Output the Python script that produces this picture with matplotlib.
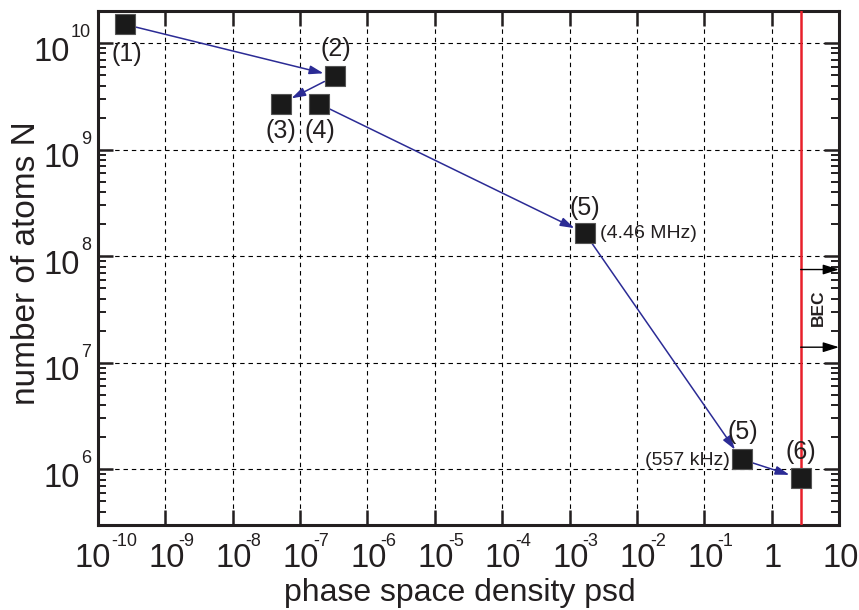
import numpy as np
import matplotlib.pyplot as plt
from matplotlib.ticker import LogLocator, FixedLocator, NullLocator, NullFormatter
from matplotlib.transforms import offset_copy

plt.rcParams['font.family'] = 'Liberation Sans'

# evaporation stages: phase space density vs atom number
psd = [2.5e-10, 3.3e-7, 5.2e-8, 1.9e-7, 1.7e-3, 0.36, 2.7]
atoms = [1.5e10, 4.9e9, 2.7e9, 2.7e9, 1.64e8, 1.24e6, 8.2e5]
stage_labels = ['(1)', '(2)', '(3)', '(4)', '(5)', '(5)', '(6)']
# which stage leads to which
arrow_pairs = [(0, 1), (1, 2), (3, 4), (4, 5), (5, 6)]
freq_stage = [4, 5]
freq_labels = ['(4.46 MHz)', '(557 kHz)']

psd_bec = 2.7
bec_arrow_atoms = [7.5e7, 1.4e7]
bec_text_pos = (4.9, 3.3e7)

x_exps = list(range(-10, 2))
x_ticklabels = [None] * 10 + ['1', '10']   # None -> drawn as 10^k
y_exps = list(range(6, 11))

# pixel offsets of the stage labels from their squares
label_offsets = [(2, -30), (1, 27), (0, -27), (1, -27), (0, 25), (1, 27), (0, 26)]
freq_offsets = [(15, 0), (-12, -1)]
freq_ha = ['left', 'right']

navy = '#2b2b95'
ink = '#231f20'

fig = plt.figure(figsize=(8.59, 6.10), dpi=100)
ax = fig.add_axes([0.114, 0.1393, 0.8627, 0.8426])
ax.set_xscale('log')
ax.set_yscale('log')
ax.set_xlim(1e-10, 10)
ax.set_ylim(3e5, 2e10)

ax.grid(True, which='major', color='k', lw=0.8, linestyle=(0, (4, 3.5)))

# arrows between stages
for a, b in arrow_pairs:
    ax.annotate('', xy=(psd[b], atoms[b]), xytext=(psd[a], atoms[a]),
                arrowprops=dict(arrowstyle='-|>,head_length=0.7,head_width=0.22',
                                color=navy, lw=1.1, shrinkA=8.5, shrinkB=8.5,
                                mutation_scale=12), zorder=3)

ax.plot(psd, atoms, ls='none', marker='s', ms=14.5, mfc='#1a1a1a',
        mec='#555555', mew=0.8, zorder=4)

for i, lab in enumerate(stage_labels):
    ax.annotate(lab, (psd[i], atoms[i]), xytext=label_offsets[i],
                textcoords='offset pixels', ha='center', va='center',
                fontsize=18, color=ink, zorder=5)

for i, lab, off, ha in zip(freq_stage, freq_labels, freq_offsets, freq_ha):
    ax.annotate(lab, (psd[i], atoms[i]), xytext=off,
                textcoords='offset pixels', ha=ha, va='center',
                fontsize=14, color=ink, zorder=5)

# BEC threshold
ax.axvline(psd_bec, color='#e8202a', lw=1.8, zorder=3)
for yv in bec_arrow_atoms:
    ax.annotate('', xy=(10, yv), xytext=(psd_bec, yv),
                arrowprops=dict(arrowstyle='-|>,head_length=0.8,head_width=0.25',
                                color='k', lw=1.0, shrinkA=0, shrinkB=0,
                                mutation_scale=12), zorder=3)
ax.text(bec_text_pos[0], bec_text_pos[1], 'BEC', rotation=90, ha='center',
        va='center', fontsize=12.5, fontweight='bold', color=ink)

# ticks
ax.xaxis.set_major_locator(FixedLocator([10.0 ** k for k in x_exps]))
ax.xaxis.set_minor_locator(NullLocator())
ax.yaxis.set_major_locator(FixedLocator([10.0 ** k for k in y_exps]))
ax.yaxis.set_minor_locator(LogLocator(base=10, subs=np.arange(2, 10), numticks=20))
ax.xaxis.set_major_formatter(NullFormatter())
ax.yaxis.set_major_formatter(NullFormatter())

ax.tick_params(which='both', direction='in', top=True, right=True, colors=ink)
ax.tick_params(which='major', length=11, width=1.8)
ax.tick_params(which='minor', length=6, width=1.4)

# tick labels as "10" with a small raised exponent
big, small = 23.5, 13
tx = ax.get_xaxis_transform()
for k, lab in zip(x_exps, x_ticklabels):
    xv = 10.0 ** k
    if lab is not None:
        ax.text(xv, 0, lab, transform=offset_copy(tx, fig=fig, x=1.5, y=-42, units='dots'),
                ha='center', va='baseline', fontsize=big, color=ink, clip_on=False)
        continue
    es = '-%d' % abs(k)
    ax.text(xv, 0, '10', transform=offset_copy(tx, fig=fig, x=1 - 6 * (len(es) - 2),
                                                y=-42, units='dots'),
            ha='center', va='baseline', fontsize=big, color=ink, clip_on=False)
    ax.text(xv, 0, es, transform=offset_copy(tx, fig=fig, x=13, y=-21, units='dots'),
            ha='left', va='baseline', fontsize=small, color=ink, clip_on=False)

ty = ax.get_yaxis_transform()
for k in y_exps:
    yv = 10.0 ** k
    es = str(k)
    ax.text(0, yv, es, transform=offset_copy(ty, fig=fig, x=-7, y=6, units='dots'),
            ha='right', va='baseline', fontsize=small, color=ink, clip_on=False)
    ax.text(0, yv, '10', transform=offset_copy(ty, fig=fig, x=-8 - 10 * len(es),
                                                y=-17.5, units='dots'),
            ha='right', va='baseline', fontsize=big, color=ink, clip_on=False)

for sp in ax.spines.values():
    sp.set_linewidth(2.2)
    sp.set_color(ink)

ax.set_xlabel('phase space density psd', fontsize=23, color=ink)
ax.xaxis.set_label_coords(0.4885, -0.1025)
ax.set_ylabel('number of atoms N', fontsize=24, color=ink)
ax.yaxis.set_label_coords(-0.0756, 0.5097)

fig.savefig('out.png', dpi=100)
